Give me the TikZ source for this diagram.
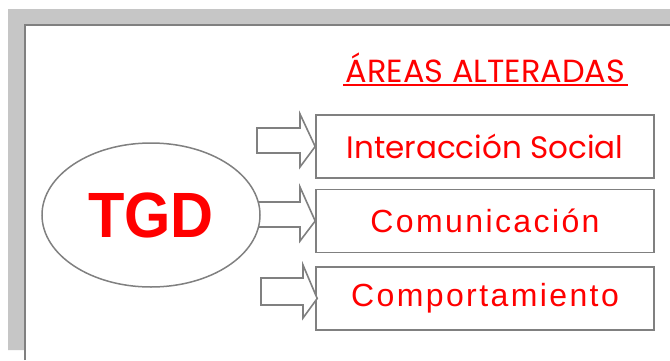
\documentclass[tikz,border=0pt]{standalone}
\usepackage{fontspec}
\usetikzlibrary{shapes.geometric}
\setmainfont{Poppins}
\newfontfamily\arialf{Liberation Sans}
\newfontfamily\arialwide[LetterSpace=7.5]{Liberation Sans}
\definecolor{framegray}{HTML}{C6C6C6}
\definecolor{linegray}{HTML}{808080}
\definecolor{txtred}{HTML}{FF0000}
\begin{document}
\begin{tikzpicture}[x=1pt,y=-1pt,
  area/.style={draw=linegray,line width=1.6pt,fill=white,minimum width=338pt,minimum height=63pt,inner sep=0pt,
    text=txtred,font=\arialwide\fontsize{32}{36}\selectfont},
  blockarrow/.style={draw=linegray,line width=1.6pt,fill=white,line join=miter}]
\useasboundingbox (0,0) rectangle (670,360);
\fill[white] (0,0) rectangle (670,360);
% frame shadow band
\fill[framegray] (8,9) -- (670,9) -- (670,24) -- (24,24) -- (24,350) -- (8,350) -- cycle;
\draw[linegray,line width=2pt] (25,360) -- (25,25) -- (670,25);
% title
\node[text=txtred,font=\fontsize{32}{38}\selectfont,inner sep=0pt,anchor=base] (title) at (485.5,82) {ÁREAS ALTERADAS};
\draw[txtred,line width=2pt] (343,84.5) -- (628,84.5);
% boxes
\node[area,font=\fontsize{31}{36}\selectfont] (b1) at (485,146.5) {Interacción Social};
\node[area] (b2) at (485,221) {Comunicación};
\node[area] (b3) at (485,298.5) {Comportamiento};
% block arrows
\draw[blockarrow] (257,128) -- (300,128) -- (300,114) -- (b1.west) -- (300,167) -- (300,153) -- (257,153) -- cycle;
\draw[blockarrow] (255,202) -- (300,202) -- (300,187) -- (b2.west) -- (300,241) -- (300,227) -- (255,227) -- cycle;
\draw[blockarrow] (261,278) -- (303,278) -- (303,265) -- ([xshift=2pt]b3.west) -- (303,318) -- (303,305) -- (261,305) -- cycle;
% ellipse
\node[draw=linegray,line width=1.5pt,fill=white,ellipse,minimum width=218pt,minimum height=144pt,inner sep=0pt] (tgd) at (151,215) {};
\node[text=txtred,font=\arialf\bfseries\fontsize{64}{70}\selectfont,inner sep=0pt,xscale=0.93,transform shape] (tgdtext) at (tgd.center) {TGD};
\end{tikzpicture}
\end{document}
